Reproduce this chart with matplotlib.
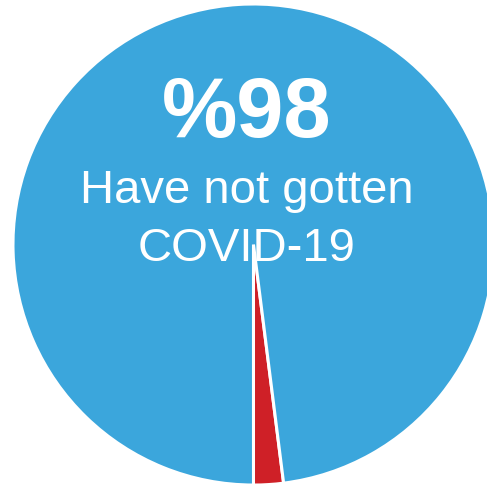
import matplotlib
matplotlib.use("Agg")
import matplotlib.pyplot as plt

labels = ["Have gotten COVID-19", "Have not gotten COVID-19"]
values = [2, 98]
colors = ["#cf2027", "#3ba6dc"]
headline = "%98"
caption_lines = ["Have not gotten", "COVID-19"]

fig = plt.figure(figsize=(4.87, 4.86), dpi=100)
fig.patch.set_facecolor("white")
ax = fig.add_axes([0, 0, 1, 1])
ax.pie(values, colors=colors, startangle=270, counterclock=True,
       radius=1.0, wedgeprops=dict(edgecolor="white", linewidth=2.2))
ax.set_xlim(-1.054, 0.971)
ax.set_ylim(-1.004, 1.0166)
ax.set_aspect("auto")
ax.axis("off")

ax.text(-0.027, 0.445, headline, color="white", fontsize=61, fontweight="bold",
        family="Liberation Sans", ha="center", va="baseline")
ax.text(-0.027, 0.1726, caption_lines[0], color="white", fontsize=34,
        family="Liberation Sans", ha="center", va="baseline")
ax.text(-0.029, -0.0686, caption_lines[1], color="white", fontsize=34,
        family="Liberation Sans", ha="center", va="baseline")

fig.savefig("out.png", dpi=100, facecolor="white")
